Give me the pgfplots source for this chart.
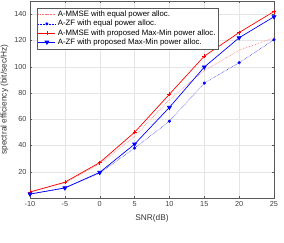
\documentclass[border=0pt]{standalone}
\usepackage{pgfplots}
\pgfplotsset{compat=1.18}
\usepackage{fontspec}
\setmainfont{Liberation Sans}
\begin{document}
\begin{tikzpicture}[x=1pt,y=1pt]
\path[use as bounding box] (0,0) rectangle (284,242);
\begin{axis}[
  at={(30pt,44pt)}, anchor=south west,
  width=244pt, height=197pt, scale only axis,
  xmin=-10, xmax=25, ymin=0, ymax=150,
  xtick={-10,-5,0,5,10,15,20,25},
  ytick={20,40,60,80,100,120,140},
  grid=major, grid style={gray!20, line width=0.3pt},
  axis line style={gray!70!black, line width=0.4pt},
  tick style={gray!70!black},
  tick align=inside, major tick length=2pt,
  ticklabel style={font=\fontsize{7.3}{8}\selectfont, text=black!75},
  /pgf/number format/assume math mode=true,
  xlabel={SNR(dB)}, ylabel={spectral efficiency (bit/sec/Hz)},
  label style={font=\fontsize{8.3}{9}\selectfont, text=black!80},
  xlabel style={yshift=-1pt},
  ylabel style={yshift=-1pt},
  legend style={at={(0.028,0.965)}, anchor=north west, font=\fontsize{7.8}{8.5}\selectfont,
    draw=gray!70!black, line width=0.4pt, inner sep=1pt, row sep=-2pt,
    cells={anchor=west}},
  legend cell align=left,
]
\addplot[red!55, densely dotted, line width=0.6pt] coordinates {
(-10,4.5) (-5,11.5) (0,26) (5,47) (10,75) (15,97) (20,112.5) (25,122)};
\addlegendentry{A-MMSE with equal power alloc.}
\addplot[blue, densely dotted, line width=0.5pt, mark=*, mark size=1.3pt, mark options={solid}] coordinates {
(-10,3) (-5,7.5) (0,19) (5,38) (10,58.5) (15,87.5) (20,103) (25,120.5)};
\addlegendentry{A-ZF with equal power alloc.}
\addplot[red, line width=0.7pt, mark=+, mark size=2pt] coordinates {
(-10,4.6) (-5,12) (0,27) (5,50) (10,79) (15,108) (20,126) (25,142)};
\addlegendentry{A-MMSE with proposed Max-Min power alloc.}
\addplot[blue, line width=0.7pt, mark=triangle*, mark size=2.2pt, mark options={rotate=180}] coordinates {
(-10,3) (-5,7.7) (0,19.5) (5,41) (10,69) (15,99.7) (20,122) (25,138)};
\addlegendentry{A-ZF with proposed Max-Min power alloc.}
\end{axis}
\end{tikzpicture}
\end{document}
